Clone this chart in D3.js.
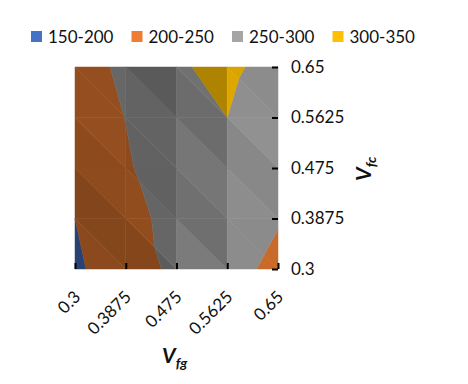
<!DOCTYPE html>
<html>
<head>
<meta charset="utf-8">
<script src="https://cdn.jsdelivr.net/npm/d3@7"></script>
<style>
  body { margin: 0; background: #fff; }
  text { font-family: Lato, "Open Sans", sans-serif; fill: #111; }
</style>
</head>
<body>
<div id="chart"></div>
<script>
// grid positions (Vfg across, Vfc up)
const vfg = [0.3, 0.3875, 0.475, 0.5625, 0.65];
const vfc = [0.3, 0.3875, 0.475, 0.5625, 0.65];
const tickLabels = ["0.3", "0.3875", "0.475", "0.5625", "0.65"];

// surface values, one array per Vfc row (bottom to top)
const row0300 = [193, 225, 260.7, 265.2, 239];
const row0388 = [200, 236, 263.5, 279, 253.1];
const row0475 = [215, 245, 276, 286, 268];
const row0563 = [225, 250.8, 281, 300, 265];
const row0650 = [232, 258, 295.4, 310.4, 280.8];
const rows = [row0300, row0388, row0475, row0563, row0650];

const bandNames = ["150-200", "200-250", "250-300", "300-350"];
const bandEdges = [150, 200, 250, 300, 350];
const bandColors = ["#4472C4", "#ED7D31", "#A5A5A5", "#FFC000"];

const width = 468, height = 384;
const plot = { left: 75, right: 278, top: 67, bottom: 269 };

const svg = d3.select("#chart").append("svg")
  .attr("width", width)
  .attr("height", height);

const x = d3.scaleLinear().domain([0.3, 0.65]).range([plot.left, plot.right]);
const y = d3.scaleLinear().domain([0.3, 0.65]).range([plot.bottom, plot.top]);

// light for the top-view shading of the surface facets
const light = (function() {
  const l = [0.6, 0.08, 1];
  const n = Math.hypot(l[0], l[1], l[2]);
  return l.map(d => d / n);
})();
const slope = 0.01;
const intensity = 0.9;

function shadeOf(tri) {
  // plane gradient in value per grid step
  const a = tri[0], b = tri[1], c = tri[2];
  const d1 = [b.i - a.i, b.j - a.j, b.v - a.v];
  const d2 = [c.i - a.i, c.j - a.j, c.v - a.v];
  const det = d1[0] * d2[1] - d1[1] * d2[0];
  const gx = (d1[2] * d2[1] - d1[1] * d2[2]) / det;
  const gy = (d1[0] * d2[2] - d1[2] * d2[0]) / det;
  const nx = -slope * gx, ny = -slope * gy, nz = 1;
  const nn = Math.hypot(nx, ny, nz);
  return intensity * Math.max(0, (nx * light[0] + ny * light[1] + nz * light[2]) / nn);
}

// keep the part of a polygon where v >= level (above) or v <= level
function clip(poly, level, above) {
  const out = [];
  const inside = p => above ? p.v >= level : p.v <= level;
  for (let k = 0; k < poly.length; k++) {
    const p = poly[k], q = poly[(k + 1) % poly.length];
    const pin = inside(p), qin = inside(q);
    if (pin) out.push(p);
    if (pin !== qin) {
      const t = (level - p.v) / (q.v - p.v);
      out.push({
        i: p.i + t * (q.i - p.i),
        j: p.j + t * (q.j - p.j),
        v: level
      });
    }
  }
  return out;
}

const gi = d3.scaleLinear().domain([0, vfg.length - 1]).range([vfg[0], vfg[vfg.length - 1]]);
const gj = d3.scaleLinear().domain([0, vfc.length - 1]).range([vfc[0], vfc[vfc.length - 1]]);

const pt = (i, j) => ({ i: i, j: j, v: rows[j][i] });

// two triangles per cell, split top-left to bottom-right
const triangles = [];
for (let j = 0; j < vfc.length - 1; j++) {
  for (let i = 0; i < vfg.length - 1; i++) {
    const tl = pt(i, j + 1), tr = pt(i + 1, j + 1), bl = pt(i, j), br = pt(i + 1, j);
    triangles.push([tl, bl, br]);
    triangles.push([tl, tr, br]);
  }
}

const pieces = [];
triangles.forEach(function(tri) {
  const f = shadeOf(tri);
  bandNames.forEach(function(name, k) {
    let poly = clip(tri, bandEdges[k], true);
    if (poly.length > 2) poly = clip(poly, bandEdges[k + 1], false);
    if (poly.length > 2) {
      const c = d3.rgb(bandColors[k]);
      pieces.push({
        poly: poly,
        color: d3.rgb(c.r * f, c.g * f, c.b * f).formatHex()
      });
    }
  });
});

const line = d3.line()
  .x(d => x(gi(d.i)))
  .y(d => y(gj(d.j)))
  .curve(d3.curveLinearClosed);

svg.append("g")
  .attr("class", "surface")
  .selectAll("path")
  .data(pieces)
  .enter()
  .append("path")
  .attr("d", d => line(d.poly))
  .attr("fill", d => d.color)
  .attr("stroke", d => d.color)
  .attr("stroke-width", 0.5)
  .attr("stroke-linejoin", "round");

// axes
const xAxis = d3.axisBottom(x)
  .tickValues(vfg)
  .tickFormat((d, k) => tickLabels[k])
  .tickSize(-6);

const gx = svg.append("g")
  .attr("transform", "translate(0," + plot.bottom + ")")
  .call(xAxis);
gx.select(".domain").remove();
gx.selectAll(".tick line").attr("stroke", "#000").attr("stroke-width", 2);
gx.selectAll(".tick text")
  .attr("x", null)
  .attr("y", null)
  .attr("dy", null)
  .attr("transform", "translate(6,29) rotate(-45)")
  .attr("text-anchor", "end")
  .attr("font-size", 17)
  .attr("font-family", null);

const yAxis = d3.axisRight(y)
  .tickValues(vfc)
  .tickFormat((d, k) => tickLabels[k])
  .tickSize(-6)
  .tickPadding(13);

const gy = svg.append("g")
  .attr("transform", "translate(" + plot.right + ",0)")
  .call(yAxis);
gy.select(".domain").remove();
gy.selectAll(".tick line").attr("stroke", "#000").attr("stroke-width", 2);
gy.selectAll(".tick text")
  .attr("font-size", 17)
  .attr("font-family", null);

// axis titles
const xt = svg.append("text")
  .attr("x", 162)
  .attr("y", 363)
  .attr("font-size", 21)
  .attr("font-weight", "bold")
  .attr("font-style", "italic");
xt.append("tspan").text("V");
xt.append("tspan").attr("dy", 5).attr("font-size", 14).text("fg");

const yt = svg.append("text")
  .attr("transform", "translate(371,181) rotate(-90)")
  .attr("font-size", 21)
  .attr("font-weight", "bold")
  .attr("font-style", "italic");
yt.append("tspan").text("V");
yt.append("tspan").attr("dy", 5).attr("font-size", 14).text("fc");

// legend
const legend = svg.append("g")
  .selectAll("g")
  .data(bandNames)
  .enter()
  .append("g")
  .attr("transform", (d, k) => "translate(" + (31 + k * 100.5) + ",31)");

legend.append("rect")
  .attr("width", 11)
  .attr("height", 11)
  .attr("fill", (d, k) => bandColors[k]);

legend.append("text")
  .attr("x", 17)
  .attr("y", 12)
  .attr("font-size", 17)
  .text(d => d);
</script>
</body>
</html>
